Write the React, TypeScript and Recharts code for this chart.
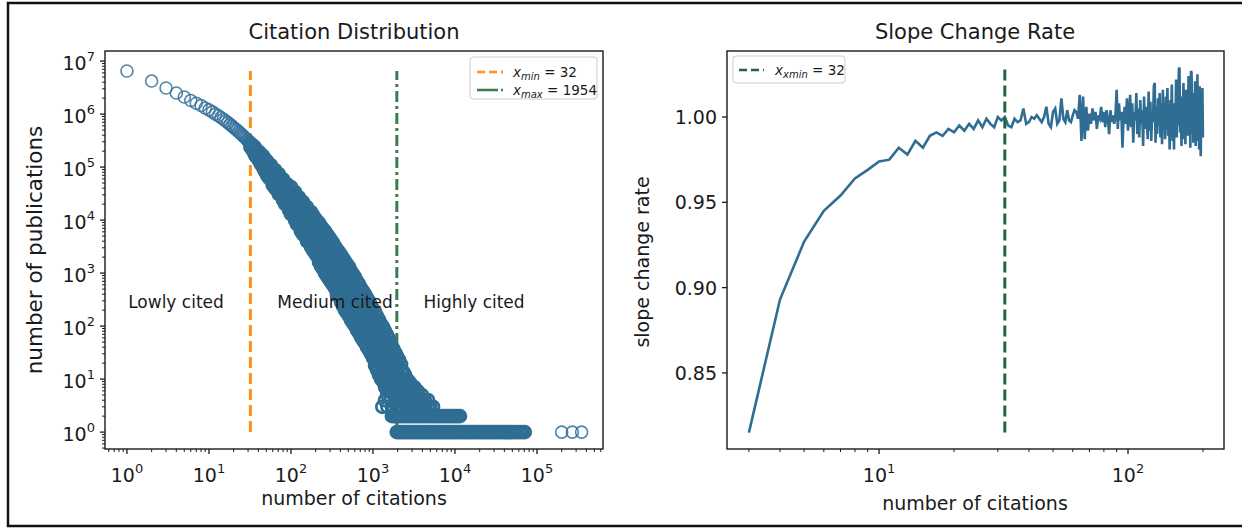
import React from 'react';
import { ScatterChart, Scatter, LineChart, Line, XAxis, YAxis, ReferenceLine } from 'recharts';

const FONT = '"DejaVu Sans", sans-serif';
const INK = '#1a1a1a';
const BLUE = '#2f6d93';
const RING = '#33709b';
const ORANGE = '#ff8f1f';
const GREEN = '#3b7d52';
const DARK_GREEN = '#27613d';

// ---- left panel: citation distribution ----
const headCitations = [1, 2, 3, 4, 5, 6, 7, 8, 9, 10, 11, 12, 13, 14, 15, 16, 17, 18, 19, 20, 21, 22, 23, 24, 25, 26, 27, 28, 29, 30, 31];
const headPublications = [
  6.5e6, 4.2e6, 3.1e6, 2.5e6, 2.1e6, 1.8e6, 1.6e6, 1.45e6, 1.3e6, 1.2e6,
  1.1e6, 1.0e6, 9.3e5, 8.6e5, 8.0e5, 7.4e5, 6.9e5, 6.4e5, 6.0e5, 5.6e5,
  5.25e5, 4.95e5, 4.65e5, 4.4e5, 4.15e5, 3.9e5, 3.7e5, 3.5e5, 3.3e5, 3.15e5, 3.0e5,
];

// the thick part of the cloud: several publication counts read per citation value
const bandCitations = [
  32, 34, 36, 38, 41, 43, 46, 48, 51, 54, 57, 60, 64, 68, 71, 76, 80, 85, 89, 95,
  100, 106, 112, 118, 125, 132, 140, 148, 157, 166, 176, 186, 196, 208, 220, 232, 246, 260, 275, 291,
  308, 326, 344, 364, 385, 408, 431, 456, 483, 511, 540, 571, 604, 639, 676, 715, 757, 800, 847, 896,
  947, 1002, 1060, 1121, 1186, 1255, 1327, 1404, 1485, 1571, 1662, 1758, 1860, 1967, 2081, 2201, 2322, 2457, 2600, 2750,
  2910,
];
const bandPublications = [
  [2.8e5, 2.4e5],
  [2.6e5, 2.1e5],
  [2.4e5, 1.76e5],
  [2.1e5, 1.54e5],
  [1.92e5, 1.61e5, 1.3e5],
  [1.76e5, 1.42e5, 1.14e5],
  [1.61e5, 1.24e5, 9.6e4],
  [1.42e5, 1.09e5, 8.4e4],
  [1.3e5, 9.6e4, 7.1e4],
  [1.04e5, 7.7e4, 6.2e4],
  [1.09e5, 8.0e4, 5.9e4],
  [8.4e4, 6.2e4, 4.6e4],
  [8.8e4, 6.5e4, 4.8e4, 4.0e4],
  [6.8e4, 5.0e4, 3.7e4],
  [7.4e4, 5.4e4, 4.0e4, 3.1e4],
  [5.7e4, 4.2e4, 3.1e4],
  [5.9e4, 4.4e4, 3.2e4, 2.4e4],
  [4.6e4, 3.4e4, 2.5e4, 2.0e4],
  [4.8e4, 3.5e4, 2.6e4, 1.92e4],
  [3.8e4, 2.8e4, 2.1e4, 1.54e4],
  [4.2e4, 3.1e4, 2.3e4, 1.68e4, 1.3e4],
  [3.2e4, 2.4e4, 1.76e4, 1.3e4],
  [3.4e4, 2.5e4, 1.84e4, 1.36e4, 1.0e4],
  [2.6e4, 1.92e4, 1.42e4, 1.04e4, 8.4e3],
  [2.7e4, 2.0e4, 1.48e4, 1.09e4, 8.0e3],
  [2.1e4, 1.54e4, 1.14e4, 8.4e3, 6.2e3],
  [2.2e4, 1.61e4, 1.19e4, 8.8e3, 6.5e3, 5.4e3],
  [1.68e4, 1.24e4, 9.2e3, 6.8e3, 5.0e3],
  [1.76e4, 1.3e4, 9.6e3, 7.1e3, 5.2e3, 4.0e3],
  [1.36e4, 1.0e4, 7.4e3, 5.4e3, 4.0e3],
  [1.42e4, 1.04e4, 7.7e3, 5.7e3, 4.2e3, 3.1e3],
  [1.24e4, 9.2e3, 6.8e3, 5.0e3, 3.7e3, 2.7e3],
  [1.09e4, 8.0e3, 5.9e3, 4.4e3, 3.2e3, 2.4e3],
  [9.6e3, 7.1e3, 5.2e3, 3.8e3, 2.8e3, 2.1e3],
  [8.8e3, 6.5e3, 4.8e3, 3.5e3, 2.6e3, 1.92e3, 1.61e3],
  [7.7e3, 5.7e3, 4.2e3, 3.1e3, 2.3e3, 1.68e3, 1.36e3],
  [6.8e3, 5.0e3, 3.7e3, 2.7e3, 2.0e3, 1.48e3, 1.19e3],
  [6.2e3, 4.6e3, 3.4e3, 2.5e3, 1.84e3, 1.36e3, 1.0e3],
  [5.4e3, 4.0e3, 3.0e3, 2.2e3, 1.61e3, 1.19e3, 878],
  [4.8e3, 3.5e3, 2.6e3, 1.92e3, 1.42e3, 1.04e3, 770],
  [4.2e3, 3.1e3, 2.3e3, 1.68e3, 1.24e3, 917, 676],
  [3.7e3, 2.7e3, 2.0e3, 1.48e3, 1.09e3, 805, 594],
  [3.2e3, 2.4e3, 1.76e3, 1.3e3, 958, 706, 521],
  [2.8e3, 2.1e3, 1.54e3, 1.14e3, 841, 620, 458, 385],
  [2.5e3, 1.84e3, 1.36e3, 1.0e3, 738, 544, 402],
  [2.2e3, 1.61e3, 1.19e3, 878, 648, 478, 353, 284],
  [1.92e3, 1.42e3, 1.04e3, 770, 569, 419, 309, 238],
  [1.68e3, 1.24e3, 917, 676, 499, 368, 272, 200],
  [1.48e3, 1.09e3, 805, 594, 438, 323, 238, 176],
  [1.3e3, 958, 706, 521, 385, 284, 209, 154],
  [1.09e3, 805, 594, 438, 323, 238, 176, 130],
  [958, 706, 521, 385, 284, 209, 154, 114],
  [841, 620, 458, 338, 249, 184, 136, 100],
  [706, 521, 385, 284, 209, 154, 114, 84],
  [620, 458, 338, 249, 184, 136, 100, 74],
  [521, 385, 284, 209, 154, 114, 84, 62],
  [458, 338, 249, 184, 136, 100, 74, 54],
  [402, 296, 219, 161, 119, 88, 65, 48],
  [338, 249, 184, 136, 100, 74, 54, 40],
  [296, 219, 161, 119, 88, 65, 48, 35],
  [249, 184, 136, 100, 74, 54, 40, 30],
  [209, 154, 114, 84, 62, 46, 34, 25],
  [184, 136, 100, 74, 54, 40, 30, 22, 18],
  [154, 114, 84, 62, 46, 34, 25, 18, 15],
  [130, 96, 71, 52, 38, 28, 21, 15, 12],
  [109, 80, 59, 44, 32, 24, 18, 13, 10],
  [96, 71, 52, 38, 28, 21, 15, 11, 9],
  [80, 59, 44, 32, 24, 18, 13, 10, 7],
  [68, 50, 37, 27, 20, 15, 11, 8, 6],
  [57, 42, 31, 23, 17, 12, 9, 7, 6],
  [46, 34, 25, 18, 14, 10, 7, 6],
  [38, 28, 21, 15, 11, 8, 6],
  [32, 24, 18, 13, 10, 7, 6],
  [27, 20, 15, 11, 8, 6],
  [23, 17, 12, 9, 7],
  [19, 14, 10, 8, 6],
  [14, 10, 7, 6],
  [12, 9, 6],
  [10, 8, 6],
  [9, 7],
  [8, 6],
];

// low integer counts around and past x_max
const lowCounts = [3, 4, 5, 6, 7];
const lowCitations = [
  [1300, 1500, 1700, 1950, 2150, 2350, 2550, 2750, 2950, 3200, 3450, 3700, 4000, 4300, 4650, 5000, 5400],
  [1400, 1650, 1900, 2150, 2400, 2650, 2900, 3150, 3400, 3700, 4000, 4300, 4700],
  [1500, 1800, 2100, 2400, 2700, 3000, 3300, 3600, 3950],
  [2900, 3200, 3500],
  [2900, 3200],
];
const twoCitations = [
  1700, 1800, 1900, 2010, 2130, 2250, 2380, 2520, 2670, 2820, 2990, 3160, 3340, 3540, 3740, 3960, 4190, 4430,
  4690, 4960, 5250, 5550, 5870, 6210, 6570, 6950, 7350, 7780, 8230, 8700, 9210, 9740, 10300, 10900, 11500,
];
const oneCitations = [
  1950, 2060, 2180, 2310, 2440, 2580, 2730, 2890, 3060, 3230, 3420, 3620, 3830, 4050, 4290, 4530, 4800, 5070,
  5370, 5680, 6010, 6350, 6720, 7110, 7520, 7960, 8420, 8900, 9420, 9960, 10500, 11100, 11800, 12500, 13200,
  14000, 14800, 15600, 16500, 17500, 18500, 19600, 20700, 21900, 23200, 24500, 25900, 27400, 29000, 30700,
  32500, 34300, 36300, 38400, 40700, 43000, 45500, 48100, 50900, 54000, 58000, 62000, 66500, 71000,
];
const outlierCitations = [200000, 270000, 350000];

const X_MIN = 32;
const X_MAX = 1954;

// ---- right panel: slope change rate ----
const rateCitations = [
  3, 4, 5, 6, 7, 8, 9, 10,
  11, 12, 13, 14, 15, 16, 17, 18, 19, 20,
  21, 22, 23, 24, 25, 26, 27, 28, 29, 30,
  31, 32, 33, 34, 35, 36, 37, 38, 39, 40,
  41, 42, 43, 44, 45, 46, 47, 48, 49, 50,
  51, 52, 53, 54, 55, 56, 57, 58, 59, 60,
  61, 62, 63, 64, 65, 66, 67, 68, 69, 70,
  71, 72, 73, 74, 75, 76, 77, 78, 79, 80,
  81, 82, 83, 84, 85, 86, 87, 88, 89, 90,
  91, 92, 93, 94, 95, 96, 97, 98, 99, 100,
  101, 102, 103, 104, 105, 106, 107, 108, 109, 110,
  111, 112, 113, 114, 115, 116, 117, 118, 119, 120,
  121, 122, 123, 124, 125, 126, 127, 128, 129, 130,
  131, 132, 133, 134, 135, 136, 137, 138, 139, 140,
  141, 142, 143, 144, 145, 146, 147, 148, 149, 150,
  151, 152, 153, 154, 155, 156, 157, 158, 159, 160,
  161, 162, 163, 164, 165, 166, 167, 168, 169, 170,
  171, 172, 173, 174, 175, 176, 177, 178, 179, 180,
  181, 182, 183, 184, 185, 186, 187, 188, 189, 190,
  191, 192, 193, 194, 195, 196, 197, 198, 199, 200,
];
const rateValues = [
  0.815, 0.893, 0.927, 0.945, 0.954, 0.964, 0.969, 0.974,
  0.975, 0.982, 0.978, 0.986, 0.982, 0.989, 0.991, 0.989, 0.993, 0.991,
  0.995, 0.992, 0.996, 0.993, 0.998, 0.994, 0.999, 0.996, 0.994, 1.000,
  0.998, 1.000, 0.995, 0.994, 0.999, 0.997, 0.998, 1.005, 0.996, 0.997,
  1.000, 0.999, 1.001, 0.999, 0.997, 1.000, 1.006, 0.996, 0.994, 1.003,
  1.005, 0.996, 0.998, 1.011, 0.999, 0.997, 1.004, 0.998, 0.997, 1.001,
  1.004, 1.003, 0.999, 1.013, 0.986, 1.012, 0.987, 1.006, 0.992, 1.002,
  0.996, 1.005, 0.998, 1.003, 0.993, 1.001, 0.999, 1.006, 0.997, 1.003,
  0.994, 1.004, 0.999, 0.990, 1.004, 0.997, 1.001, 0.996, 1.000, 1.016,
  0.993, 1.008, 0.998, 1.003, 0.982, 1.000, 1.006, 0.996, 1.011, 0.992,
  1.002, 1.013, 0.994, 1.008, 0.985, 1.003, 0.998, 1.014, 0.990, 1.005,
  0.988, 1.010, 0.996, 1.004, 0.983, 1.012, 0.993, 1.006, 0.999, 0.987,
  1.015, 0.992, 1.009, 0.986, 1.003, 0.997, 1.018, 1.020, 0.985, 1.006,
  0.990, 1.011, 0.995, 1.014, 0.988, 1.008, 0.984, 1.016, 0.996, 1.002,
  0.987, 1.012, 0.993, 1.017, 0.989, 1.006, 0.981, 1.010, 0.998, 1.019,
  0.986, 1.008, 0.981, 1.004, 0.992, 1.022, 0.988, 1.013, 0.995, 1.028,
  1.029, 0.991, 1.005, 0.983, 1.012, 0.996, 1.020, 0.987, 1.009, 0.984,
  1.016, 0.993, 1.006, 0.989, 1.024, 0.998, 1.011, 0.982, 1.027, 1.026,
  0.990, 1.014, 0.985, 1.008, 0.994, 1.021, 0.983, 1.010, 0.992, 1.025,
  0.986, 1.015, 0.981, 1.018, 0.990, 0.977, 1.012, 0.992, 1.017, 0.988,
];
const rateTicks = [0.85, 0.9, 0.95, 1.0];

// tables for recharts: open points drawn as they are, the packed cloud gets a heavier ring
const openData = [
  ...headCitations.map((c, i) => ({ c, n: headPublications[i] })),
  ...outlierCitations.map((c) => ({ c, n: 1 })),
];
const packedData = [
  ...bandCitations.flatMap((c, i) => (bandPublications[i] || []).map((n) => ({ c, n }))),
  ...lowCounts.flatMap((n, i) => lowCitations[i].map((c) => ({ c, n }))),
  ...twoCitations.map((c) => ({ c, n: 2 })),
  ...oneCitations.map((c) => ({ c, n: 1 })),
];
const rateData = rateCitations.map((c, i) => ({ c, r: rateValues[i] }));
const topCount = Math.max(...headPublications);
const rateLo = Math.min(...rateValues);
const rateHi = Math.max(...rateValues);

// log ticks: decades plus 2..9 minors
const logTicks = (lo: number, hi: number, min: number, max: number) => {
  const out: number[] = [];
  for (let e = lo; e <= hi; e++) for (let m = 1; m < 10; m++) out.push(m * Math.pow(10, e));
  return out.filter((v) => v >= min && v <= max);
};
const isDecade = (v: number) => Math.abs(Math.log10(v) - Math.round(Math.log10(v))) < 1e-6;

const LogTickX = (props: any) => {
  const { x, y, payload } = props;
  const v = payload.value;
  const major = isDecade(v);
  return (
    <g>
      <line x1={x} x2={x} y1={y} y2={y + (major ? 5 : 3)} stroke={INK} strokeWidth={major ? 1.3 : 1} />
      {major && (
        <text x={x} y={y + 33} textAnchor="middle" fontSize={19} fill={INK} fontFamily={FONT}>
          10<tspan dy={-9} fontSize={13}>{Math.round(Math.log10(v))}</tspan>
        </text>
      )}
    </g>
  );
};

const LogTickY = (props: any) => {
  const { x, y, payload } = props;
  const v = payload.value;
  const major = isDecade(v);
  return (
    <g>
      <line x1={x} x2={x - (major ? 5 : 3)} y1={y} y2={y} stroke={INK} strokeWidth={major ? 1.3 : 1} />
      {major && (
        <text x={x - 10} y={y + 9} textAnchor="end" fontSize={19} fill={INK} fontFamily={FONT}>
          10<tspan dy={-9} fontSize={13}>{Math.round(Math.log10(v))}</tspan>
        </text>
      )}
    </g>
  );
};

const RateTickY = (props: any) => {
  const { x, y, payload } = props;
  return (
    <g>
      <line x1={x} x2={x - 5} y1={y} y2={y} stroke={INK} strokeWidth={1.3} />
      <text x={x - 10} y={y + 7} textAnchor="end" fontSize={19} fill={INK} fontFamily={FONT}>
        {payload.value.toFixed(2)}
      </text>
    </g>
  );
};

const Ring = (p: any) => (
  <circle cx={p.cx} cy={p.cy} r={6} fill="none" stroke={RING} strokeOpacity={0.85} strokeWidth={1.6} />
);
const PackedRing = (p: any) => (
  <circle cx={p.cx} cy={p.cy} r={6} fill="none" stroke={BLUE} strokeWidth={2.7} />
);

const W = 1242;
const H = 528;
const PLOT_TOP = 51;
const PLOT_BOTTOM = 449;

export default function App() {
  return (
    <div style={{ position: 'absolute', left: 0, top: 0, width: W, height: H, background: '#fff', overflow: 'hidden', fontFamily: FONT }}>
      <div style={{ position: 'absolute', left: 0, top: 0 }}>
        <ScatterChart width={620} height={H} margin={{ top: PLOT_TOP, left: 35, right: 17, bottom: H - PLOT_BOTTOM - 30 }}>
          <XAxis
            dataKey="c" type="number" scale="log" domain={[0.54, 6.38e5]} allowDataOverflow
            ticks={logTicks(-1, 5, 0.54, 6.38e5)} interval={0} height={30}
            axisLine={false} tickLine={false} tickSize={0} tickMargin={0} tick={<LogTickX />}
          />
          <YAxis
            dataKey="n" type="number" scale="log" domain={[0.48, 1.55e7]} allowDataOverflow
            ticks={logTicks(-1, 7, 0.48, 1.55e7)} interval={0} width={70}
            axisLine={false} tickLine={false} tickSize={0} tickMargin={0} tick={<LogTickY />}
          />
          <Scatter data={packedData} shape={<PackedRing />} isAnimationActive={false} />
          <Scatter data={openData} shape={<Ring />} isAnimationActive={false} />
          <ReferenceLine segment={[{ x: X_MIN, y: 1 }, { x: X_MIN, y: topCount }]} stroke={ORANGE} strokeWidth={3} strokeDasharray="11 5" />
          <ReferenceLine segment={[{ x: X_MAX, y: 1 }, { x: X_MAX, y: topCount }]} stroke={GREEN} strokeWidth={3} strokeDasharray="11 4 3 4" />
        </ScatterChart>
      </div>

      <div style={{ position: 'absolute', left: 620, top: 0 }}>
        <LineChart width={622} height={H} data={rateData} margin={{ top: PLOT_TOP, left: 37, right: 18, bottom: H - PLOT_BOTTOM - 30 }}>
          <XAxis
            dataKey="c" type="number" scale="log" domain={[2.45, 243]} allowDataOverflow
            ticks={logTicks(0, 2, 2.45, 243)} interval={0} height={30}
            axisLine={false} tickLine={false} tickSize={0} tickMargin={0} tick={<LogTickX />}
          />
          <YAxis
            type="number" domain={[0.8054, 1.0387]} allowDataOverflow ticks={rateTicks} interval={0} width={70}
            axisLine={false} tickLine={false} tickSize={0} tickMargin={0} tick={<RateTickY />}
          />
          <Line dataKey="r" type="linear" stroke={BLUE} strokeWidth={2.6} dot={false} isAnimationActive={false} />
          <ReferenceLine segment={[{ x: X_MIN, y: rateLo }, { x: X_MIN, y: rateHi }]} stroke={DARK_GREEN} strokeWidth={3} strokeDasharray="11 5" />
        </LineChart>
      </div>

      <svg width={W} height={H} style={{ position: 'absolute', left: 0, top: 0, pointerEvents: 'none' }} fontFamily={FONT} fill={INK}>
        <rect x={8} y={3} width={1240} height={523} fill="none" stroke="#111" strokeWidth={2.5} />
        <rect x={105} y={PLOT_TOP} width={498} height={PLOT_BOTTOM - PLOT_TOP} fill="none" stroke={INK} strokeWidth={1.4} />
        <rect x={727} y={PLOT_TOP} width={497} height={PLOT_BOTTOM - PLOT_TOP} fill="none" stroke={INK} strokeWidth={1.4} />

        <text x={354} y={39} textAnchor="middle" fontSize={21}>Citation Distribution</text>
        <text x={975} y={39} textAnchor="middle" fontSize={21}>Slope Change Rate</text>
        <text x={354} y={505} textAnchor="middle" fontSize={19}>number of citations</text>
        <text x={975} y={510} textAnchor="middle" fontSize={19}>number of citations</text>
        <text transform="translate(42 250) rotate(-90)" textAnchor="middle" fontSize={21.5}>number of publications</text>
        <text transform="translate(649 262) rotate(-90)" textAnchor="middle" fontSize={19}>slope change rate</text>

        <text x={176} y={308} textAnchor="middle" fontSize={17}>Lowly cited</text>
        <text x={335} y={308} textAnchor="middle" fontSize={17}>Medium cited</text>
        <text x={474} y={308} textAnchor="middle" fontSize={17}>Highly cited</text>

        <rect x={470} y={57} width={127} height={42} rx={3} fill="#fff" fillOpacity={0.8} stroke="#cccccc" />
        <line x1={477} x2={503} y1={72} y2={72} stroke={ORANGE} strokeWidth={2.5} strokeDasharray="8 4" />
        <text x={513} y={77} fontSize={13.5}>
          <tspan fontStyle="italic">x</tspan>
          <tspan fontStyle="italic" fontSize={10} dy={3}>min</tspan>
          <tspan dy={-3}> = 32</tspan>
        </text>
        <line x1={477} x2={503} y1={90} y2={90} stroke={GREEN} strokeWidth={2.5} strokeDasharray="21 3 2 10" />
        <text x={513} y={95} fontSize={13.5}>
          <tspan fontStyle="italic">x</tspan>
          <tspan fontStyle="italic" fontSize={10} dy={3}>max</tspan>
          <tspan dy={-3}> = 1954</tspan>
        </text>

        <rect x={733} y={56} width={112} height={27} rx={3} fill="#fff" fillOpacity={0.8} stroke="#cccccc" />
        <line x1={739} x2={764} y1={70} y2={70} stroke={DARK_GREEN} strokeWidth={2.5} strokeDasharray="8 4" />
        <text x={775} y={75} fontSize={13.5}>
          <tspan fontStyle="italic">x</tspan>
          <tspan fontStyle="italic" fontSize={10} dy={3}>xmin</tspan>
          <tspan dy={-3}> = 32</tspan>
        </text>
      </svg>
    </div>
  );
}
